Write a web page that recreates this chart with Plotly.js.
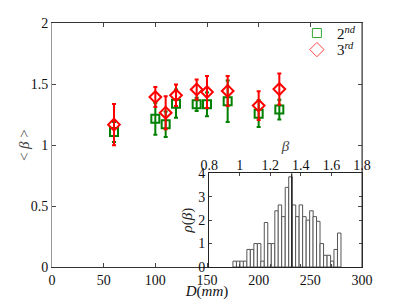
<!DOCTYPE html>
<html>
<head>
<meta charset="utf-8">
<script src="https://cdn.plot.ly/plotly-3.0.1.min.js"></script>
<style>html,body{margin:0;padding:0;background:#fff;}#chart{width:399px;height:300px;}</style>
</head>
<body>
<div id="chart"></div>
<script>
// Main data: D (mm) and <beta> for the two harmonics
const D = [60, 100, 110, 120, 140, 150, 170, 200, 220];
const beta2 = [1.107, 1.216, 1.170, 1.339, 1.333, 1.333, 1.358, 1.257, 1.290];
const err2 = [0.082, 0.131, 0.104, 0.115, 0.054, 0.098, 0.170, 0.109, 0.080];
const beta3 = [1.167, 1.393, 1.265, 1.407, 1.455, 1.434, 1.443, 1.323, 1.458];
const err3 = [0.170, 0.082, 0.135, 0.088, 0.082, 0.131, 0.123, 0.118, 0.128];

// Inset histogram: bin centres (beta) and density rho(beta)
const binCentres = [0.967, 0.990, 1.013, 1.035, 1.058, 1.081, 1.104, 1.127, 1.149, 1.172,
  1.195, 1.218, 1.241, 1.263, 1.286, 1.309, 1.332, 1.355, 1.377, 1.400,
  1.423, 1.446, 1.469, 1.491, 1.514, 1.537, 1.560, 1.583, 1.605, 1.628, 1.651];
const rho = [0.25, 0.25, 0.25, 0.25, 0.75, 0.75, 1.0, 1.0, 0.25, 1.9,
  1.0, 1.0, 2.4, 2.65, 2.15, 3.4, 3.85, 2.65, 2.15, 2.65,
  2.15, 2.0, 2.4, 2.15, 1.95, 1.0, 0.5, 0.5, 0.25, 0.75, 1.45];
const binWidth = 0.0228;
const meanBeta = 1.34;

const xTicks = [0, 50, 100, 150, 200, 250, 300];
const yTicks = [0, 0.5, 1, 1.5, 2];
const x2Ticks = [0.8, 1, 1.2, 1.4, 1.6, 1.8];
const y2Ticks = [0, 1, 2, 3, 4];

const GREEN = '#008000', RED = '#ff0000';
const serif = 'Liberation Serif';

const traces = [
  {
    type: 'bar', x: binCentres, y: rho, width: binWidth, xaxis: 'x2', yaxis: 'y2',
    marker: {color: '#ffffff', line: {color: '#555555', width: 1}},
    showlegend: false, hoverinfo: 'skip'
  },
  {
    type: 'scatter', mode: 'markers', x: D, y: beta2, showlegend: false,
    marker: {symbol: 'square-open', size: 8, color: GREEN, line: {width: 2, color: GREEN}},
    error_y: {type: 'data', array: err2, visible: true, color: GREEN, thickness: 2, width: 2}
  },
  {
    type: 'scatter', mode: 'markers', x: D, y: beta3, showlegend: false,
    marker: {symbol: 'diamond-open', size: 9, color: RED, line: {width: 2, color: RED}},
    error_y: {type: 'data', array: err3, visible: true, color: RED, thickness: 2, width: 2}
  },
  {
    type: 'scatter', mode: 'markers', x: [null], y: [null], name: '2<sup><i>nd</i></sup>', legend: 'legend',
    marker: {symbol: 'square-open', size: 9, color: '#33a833', line: {width: 1, color: '#33a833'}}
  },
  {
    type: 'scatter', mode: 'markers', x: [null], y: [null], name: '3<sup><i>rd</i></sup>', legend: 'legend2',
    marker: {symbol: 'diamond-open', size: 11, color: '#ff4444', line: {width: 1, color: '#ff4444'}}
  }
];

const tickFont = {family: serif, size: 14, color: '#111'};
const legFont = {family: serif, size: 15, color: '#111'};

const layout = {
  width: 399, height: 300,
  margin: {l: 52, r: 37, t: 23, b: 33, autoexpand: false},
  paper_bgcolor: '#fff', plot_bgcolor: 'rgba(0,0,0,0)',
  showlegend: true,
  legend: {x: 0.79, y: 0.958, xanchor: 'left', yanchor: 'middle', bgcolor: 'rgba(0,0,0,0)', font: legFont},
  legend2: {x: 0.79, y: 0.89, xanchor: 'left', yanchor: 'middle', bgcolor: 'rgba(0,0,0,0)', font: legFont},
  xaxis: {
    domain: [0, 1], range: [0, 300], tickvals: xTicks, ticks: 'inside', ticklen: 4,
    showline: true, linecolor: '#333', linewidth: 1, mirror: 'ticks', showgrid: false, zeroline: false,
    tickfont: tickFont, automargin: false,
    title: {text: '<i>D</i>(<i>mm</i>)', font: {family: serif, size: 15, color: '#111'}, standoff: 2}
  },
  yaxis: {
    domain: [0, 1], range: [0, 2], tickvals: yTicks, ticks: 'inside', ticklen: 4,
    showline: true, linecolor: '#999', linewidth: 1, mirror: 'ticks', showgrid: false, zeroline: false,
    tickfont: tickFont, automargin: false
  },
  xaxis2: {
    domain: [0.507, 1], range: [0.8, 1.8], anchor: 'y2', side: 'top', tickvals: x2Ticks,
    ticks: 'inside', ticklen: 3, showline: true, linecolor: '#222', linewidth: 1, mirror: 'ticks',
    showgrid: false, zeroline: false, tickfont: tickFont, ticklabelstandoff: -3,
    title: {text: '<i>β</i>', font: {family: serif, size: 15, color: '#444'}, standoff: 2}
  },
  yaxis2: {
    domain: [0, 0.384], range: [0, 4], anchor: 'x2', tickvals: y2Ticks,
    ticks: 'inside', ticklen: 3, showline: true, linecolor: '#222', linewidth: 1, mirror: 'ticks',
    showgrid: false, zeroline: false, tickfont: tickFont,
    title: {text: '<i>ρ</i>(<i>β</i>)', font: {family: serif, size: 15, color: '#222'}, standoff: 2}
  },
  annotations: [
    {text: '< <i>β</i> >', xref: 'paper', yref: 'paper', x: -0.09, y: 0.5, xanchor: 'center', yanchor: 'middle',
      textangle: -90, showarrow: false, font: {family: serif, size: 15, color: '#444'}}
  ],
  shapes: [
    {type: 'rect', xref: 'x2 domain', yref: 'y2 domain', x0: 0, x1: 1, y0: 0, y1: 1,
      fillcolor: '#fff', line: {width: 0}, layer: 'below'},
    {type: 'line', xref: 'x2', yref: 'y2', x0: meanBeta, x1: meanBeta, y0: 0, y1: 4,
      line: {color: '#222', width: 1.3}},
    {type: 'line', xref: 'paper', yref: 'paper', x0: 1, x1: 1, y0: 0, y1: 1,
      line: {color: '#333', width: 1}}
  ]
};

Plotly.newPlot('chart', traces, layout, {displayModeBar: false, staticPlot: true});
</script>
</body>
</html>
